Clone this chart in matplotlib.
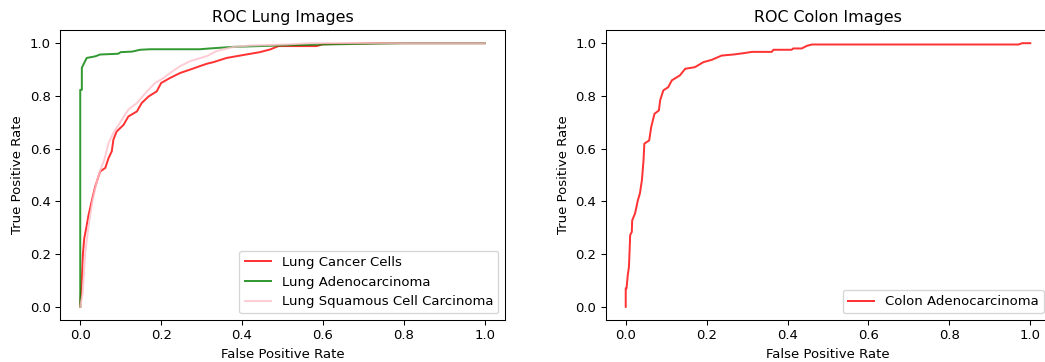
import matplotlib
matplotlib.use("Agg")
import matplotlib.pyplot as plt

# Lung Cancer Cells (red)
lcc_fpr = [0.0, 0.0, 0.004, 0.0066, 0.01, 0.015, 0.0206, 0.029, 0.037, 0.049, 0.062, 0.07, 0.078, 0.082,
           0.09, 0.107, 0.119, 0.14, 0.152, 0.169, 0.189, 0.2, 0.222, 0.247, 0.272, 0.296, 0.313, 0.329,
           0.362, 0.395, 0.444, 0.469, 0.49, 0.584, 0.6, 0.74, 1.0]
lcc_tpr = [0.0, 0.006, 0.1, 0.2, 0.26, 0.3, 0.348, 0.405, 0.456, 0.513, 0.527, 0.564, 0.59, 0.634,
           0.665, 0.69, 0.722, 0.741, 0.773, 0.798, 0.817, 0.849, 0.868, 0.887, 0.9, 0.913, 0.922, 0.928,
           0.944, 0.953, 0.966, 0.976, 0.989, 0.989, 0.996, 1.0, 1.0]

# Lung Adenocarcinoma (green)
lad_fpr = [0.0, 0.0, 0.004, 0.004, 0.016, 0.037, 0.049, 0.094, 0.1, 0.128, 0.148, 0.173, 0.296, 0.32,
           0.378, 0.51, 0.6, 0.8, 1.0]
lad_tpr = [0.0, 0.823, 0.823, 0.907, 0.944, 0.95, 0.957, 0.96, 0.966, 0.968, 0.975, 0.977, 0.977, 0.98,
           0.986, 0.992, 0.995, 1.0, 1.0]

# Lung Squamous Cell Carcinoma (pink)
lsc_fpr = [0.0, 0.006, 0.012, 0.02, 0.03, 0.04, 0.05, 0.06, 0.07, 0.082, 0.103, 0.119, 0.14, 0.165,
           0.185, 0.206, 0.222, 0.247, 0.272, 0.313, 0.337, 0.379, 0.42, 0.51, 0.568, 1.0]
lsc_tpr = [0.0, 0.05, 0.2, 0.3, 0.4, 0.47, 0.52, 0.56, 0.621, 0.659, 0.71, 0.748, 0.773, 0.817,
           0.849, 0.868, 0.887, 0.913, 0.932, 0.951, 0.97, 0.986, 0.991, 0.995, 1.0, 1.0]

# Colon Adenocarcinoma (red)
col_fpr = [0.0, 0.0, 0.002, 0.005, 0.008, 0.011, 0.015, 0.016, 0.023, 0.03, 0.035, 0.04, 0.044, 0.046,
           0.058, 0.063, 0.071, 0.082, 0.085, 0.093, 0.105, 0.114, 0.134, 0.147, 0.171, 0.192, 0.213,
           0.237, 0.266, 0.291, 0.312, 0.361, 0.365, 0.41, 0.414, 0.435, 0.448, 0.46, 0.971, 0.98, 1.0]
col_tpr = [0.0, 0.07, 0.07, 0.12, 0.152, 0.272, 0.284, 0.328, 0.354, 0.404, 0.43, 0.48, 0.556, 0.619,
           0.631, 0.682, 0.732, 0.745, 0.783, 0.821, 0.833, 0.859, 0.878, 0.903, 0.909, 0.928, 0.937,
           0.953, 0.957, 0.962, 0.967, 0.967, 0.975, 0.975, 0.98, 0.98, 0.99, 0.995, 0.995, 1.0, 1.0]

DPI = 95
fig = plt.figure(figsize=(1045 / DPI, 362 / DPI), dpi=DPI)

ax1 = fig.add_axes([60 / 1045, 42 / 362, 445 / 1045, 290 / 362])
ax1.plot(lcc_fpr, lcc_tpr, color="red", alpha=0.8, label="Lung Cancer Cells")
ax1.plot(lad_fpr, lad_tpr, color="green", alpha=0.8, label="Lung Adenocarcinoma")
ax1.plot(lsc_fpr, lsc_tpr, color="pink", alpha=0.8, label="Lung Squamous Cell Carcinoma")
ax1.set_title("ROC Lung Images")
ax1.set_xlabel("False Positive Rate")
ax1.set_ylabel("True Positive Rate")
ax1.legend(loc="lower right")

ax2 = fig.add_axes([605.5 / 1045, 42 / 362, 445 / 1045, 290 / 362])
ax2.plot(col_fpr, col_tpr, color="red", alpha=0.8, label="Colon Adenocarcinoma")
ax2.set_title("ROC Colon Images")
ax2.set_xlabel("False Positive Rate")
ax2.set_ylabel("True Positive Rate")
ax2.legend(loc="lower right")

fig.savefig("out.png", dpi=DPI)
